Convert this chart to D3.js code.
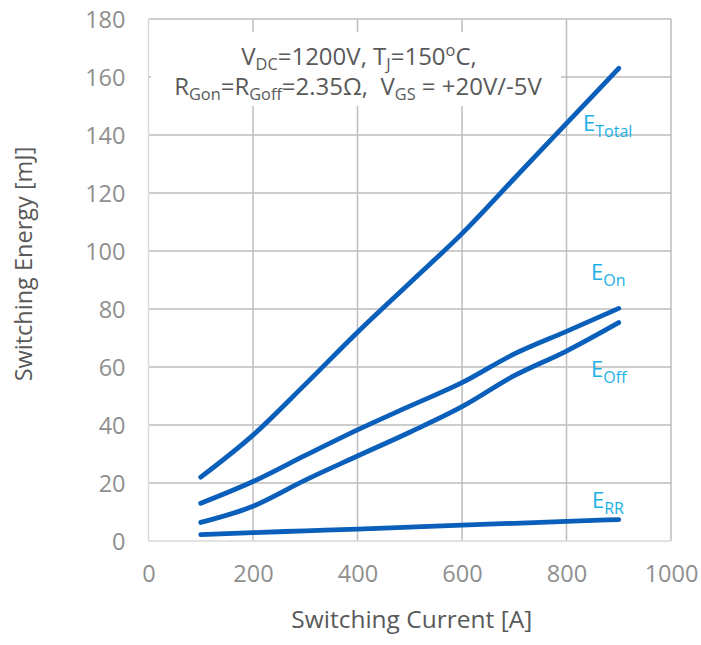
<!DOCTYPE html>
<html>
<head>
<meta charset="utf-8">
<script src="https://cdn.jsdelivr.net/npm/d3@7"></script>
<style>
  html, body { margin: 0; padding: 0; background: #ffffff; }
  svg text { font-family: "Open Sans", "Noto Sans", sans-serif; white-space: pre; }
</style>
</head>
<body>
<svg id="chart" width="701" height="645"></svg>
<script>
// Switching energy vs. switching current
const current = [100, 200, 300, 400, 500, 600, 700, 800, 900];
const eTotal  = [22, 36.5, 54, 72, 89, 106, 125, 144, 163];
const eOn     = [13, 20.5, 29.5, 38.3, 46.5, 54.6, 64.5, 72.3, 80.2];
const eOff    = [6.4, 12, 21, 29.3, 37.5, 46.3, 57, 65.5, 75.3];
const eRR     = [2.2, 2.9, 3.5, 4.1, 4.8, 5.5, 6.1, 6.8, 7.4];

const xTicks = [0, 200, 400, 600, 800, 1000];
const yTicks = [0, 20, 40, 60, 80, 100, 120, 140, 160, 180];

const seriesNames = ["Total", "On", "Off", "RR"];
const seriesValues = [eTotal, eOn, eOff, eRR];

const svg = d3.select("#chart");
const margin = { left: 148.5, right: 30, top: 19, bottom: 104 };
const W = 701, H = 645;

const x = d3.scaleLinear().domain([0, 1000]).range([margin.left, W - margin.right]);
const y = d3.scaleLinear().domain([0, 180]).range([H - margin.bottom, margin.top]);

const gridColor = "#bdbdbd";
const tickColor = "#8f8f8f";
const titleColor = "#595959";
const lineColor = "#0a5fba";
const labelColor = "#1ab0e6";

// vertical grid lines
svg.append("g")
  .selectAll("line")
  .data(xTicks.slice(1))
  .join("line")
  .attr("x1", d => x(d)).attr("x2", d => x(d))
  .attr("y1", y(180)).attr("y2", y(0))
  .attr("stroke", gridColor).attr("stroke-width", 1.5);

// horizontal grid lines
svg.append("g")
  .selectAll("line")
  .data(yTicks.slice(1))
  .join("line")
  .attr("x1", x(0)).attr("x2", x(1000))
  .attr("y1", d => y(d)).attr("y2", d => y(d))
  .attr("stroke", gridColor).attr("stroke-width", 1.5);

// axis lines
svg.append("line")
  .attr("x1", x(0)).attr("x2", x(0)).attr("y1", y(180)).attr("y2", y(0))
  .attr("stroke", "#d9d9d9").attr("stroke-width", 1.5);
svg.append("line")
  .attr("x1", x(0)).attr("x2", x(1000)).attr("y1", y(0)).attr("y2", y(0))
  .attr("stroke", "#d9d9d9").attr("stroke-width", 1.5);

// axes (labels only)
const xAxis = d3.axisBottom(x).tickValues(xTicks).tickSize(0).tickPadding(0).tickFormat(d3.format("d"));
const gx = svg.append("g").attr("transform", `translate(0,${y(0)})`).call(xAxis);
gx.select(".domain").remove();
gx.selectAll("text")
  .attr("dy", null).attr("y", 40.5)
  .attr("fill", tickColor).attr("font-size", 23.5)
  .attr("font-family", "'Open Sans', sans-serif");

const yAxis = d3.axisLeft(y).tickValues(yTicks).tickSize(0).tickPadding(0).tickFormat(d3.format("d"));
const gy = svg.append("g").attr("transform", `translate(${x(0) - 23},0)`).call(yAxis);
gy.select(".domain").remove();
gy.selectAll("text")
  .attr("dy", "0.36em").attr("x", 0)
  .attr("fill", tickColor).attr("font-size", 23.5)
  .attr("font-family", "'Open Sans', sans-serif");

// axis titles
svg.append("text")
  .attr("x", (x(0) + x(1000)) / 2 + 2).attr("y", 628)
  .attr("text-anchor", "middle").attr("font-size", 24.5).attr("fill", titleColor)
  .text("Switching Current [A]");

svg.append("text")
  .attr("transform", `translate(32,${(y(0) + y(180)) / 2 - 16}) rotate(-90)`)
  .attr("text-anchor", "middle").attr("font-size", 23.5).attr("fill", titleColor)
  .text("Switching Energy [mJ]");

// conditions box
const cond = svg.append("g");
cond.append("rect")
  .attr("x", 151).attr("y", 32).attr("width", 410).attr("height", 74)
  .attr("fill", "#ffffff");

function richText(g, cx, by, parts, size) {
  const t = g.append("text")
    .attr("x", cx).attr("y", by)
    .attr("text-anchor", "middle").attr("font-size", size).attr("fill", titleColor);
  parts.forEach(p => {
    const ts = t.append("tspan").text(p.t);
    if (p.s === "sub") ts.attr("font-size", size * 0.68).attr("dy", 5);
    else if (p.s === "sup") ts.attr("font-size", size * 0.68).attr("dy", -9);
    if (p.back) ts.attr("dy", p.back);
  });
  return t;
}

richText(cond, 359, 65, [
  { t: "V" }, { t: "DC", s: "sub" }, { t: "=1200V, T", back: -5 }, { t: "J", s: "sub" },
  { t: "=150", back: -5 }, { t: "o", s: "sup" }, { t: "C,", back: 9 }
], 24);

richText(cond, 358, 95, [
  { t: "R" }, { t: "Gon", s: "sub" }, { t: "=R", back: -5 }, { t: "Goff", s: "sub" },
  { t: "=2.35Ω,  V", back: -5 }, { t: "GS", s: "sub" }, { t: " = +20V/-5V", back: -5 }
], 24);

// curves
const line = d3.line()
  .x((d, i) => x(current[i]))
  .y(d => y(d))
  .curve(d3.curveMonotoneX);

svg.append("g")
  .selectAll("path")
  .data(seriesValues)
  .join("path")
  .attr("d", d => line(d))
  .attr("fill", "none")
  .attr("stroke", lineColor)
  .attr("stroke-width", 4.8)
  .attr("stroke-linecap", "round")
  .attr("stroke-linejoin", "round");

// series labels
const labelPos = [
  { x: 583, y: 131 },
  { x: 591, y: 280 },
  { x: 591, y: 377 },
  { x: 592, y: 507.5 }
];
seriesNames.forEach((n, i) => {
  const t = svg.append("text")
    .attr("x", labelPos[i].x).attr("y", labelPos[i].y)
    .attr("font-size", 22).attr("fill", labelColor);
  t.append("tspan").text("E");
  t.append("tspan").text(n).attr("font-size", 16).attr("dy", 6);
});
</script>
</body>
</html>
